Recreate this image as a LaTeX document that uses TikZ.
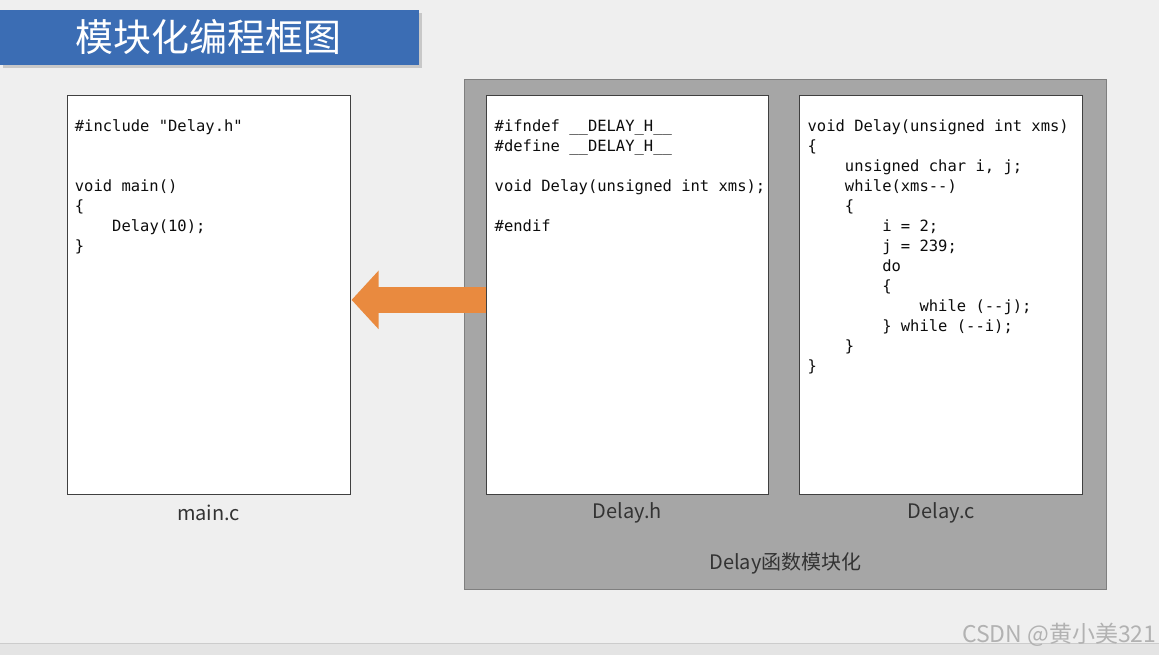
\documentclass[tikz,border=0pt]{standalone}
\usepackage{fontspec}
\setmainfont{Noto Sans CJK SC}
\setmonofont{DejaVu Sans Mono}
\usetikzlibrary{positioning,arrows.meta,shadows}
\definecolor{cbg}{HTML}{EFEFEF}
\definecolor{cstrip}{HTML}{E4E4E4}
\definecolor{cblue}{HTML}{3B6DB4}
\definecolor{cgray}{HTML}{A6A6A6}
\definecolor{cedge}{HTML}{7F7F7F}
\definecolor{corange}{HTML}{E98A3F}
\definecolor{ctext}{HTML}{333333}
\newcommand{\tab}{\phantom{0000}}

\begin{document}
\begin{tikzpicture}[x=1pt, y=-1pt,
  file/.style={draw=black!75, fill=white, line width=1pt, minimum width=283pt, minimum height=399pt, inner sep=0pt},
  code/.style={anchor=north west, align=left, inner sep=0pt, text=black!95, font=\ttfamily\fontsize{15.5}{20}\selectfont},
  flabel/.style={text=ctext, inner sep=0pt, font=\fontsize{20}{23}\selectfont},
  banner/.style={fill=cblue, text=white, minimum width=419pt, minimum height=55pt, inner sep=0pt,
    drop shadow={shadow xshift=3pt, shadow yshift=-3pt, opacity=.35}, font=\fontsize{38}{42}\selectfont},
  bigarrow/.style={draw=corange, line width=26pt, -{Triangle[length=27pt, width=57pt]}}]
% page
\fill[cbg] (0,0) rectangle (1159,655);
\fill[cstrip] (0,643) rectangle (1159,655);
\draw[black!20] (0,643) -- (1159,643);
\useasboundingbox (0,0) rectangle (1159,655);
% title
\node[banner] (title) at (209.5,37.5) {\hspace*{-3pt}模块化编程框图};
% module box
\node[draw=cedge, fill=cgray, line width=1pt, minimum width=643pt, minimum height=510pt, inner sep=0pt] (modbox) at (785.5,335) {};
\node[flabel] (modlab) at (785.5,564) {Delay函数模块化};
% files
\node[file] (mainbox) at (208.5,295.5) {};
\node[file] (hbox) at (627.5,295.5) {};
\node[file] (cbox) at (941.5,295.5) {};
\node[flabel] (mainlab) at ([yshift=-17.5pt]mainbox.south) {main.c};
\node[flabel] (hlab) at ([yshift=-17.5pt]hbox.south) {Delay.h};
\node[flabel] (clab) at ([yshift=-17.5pt]cbox.south) {Delay.c};
% code
\node[code] (maincode) at ([shift={(8,24)}]mainbox.north west) {\#include "Delay.h"\\ \mbox{}\\ \mbox{}\\ void main()\\ \{\\ \tab Delay(10);\\ \}};
\node[code] (hcode) at ([shift={(9,24)}]hbox.north west) {\#ifndef \_\_DELAY\_H\_\_\\ \#define \_\_DELAY\_H\_\_\\ \mbox{}\\ void Delay(unsigned int xms);\\ \mbox{}\\ \#endif};
\node[code] (ccode) at ([shift={(8,24)}]cbox.north west) {void Delay(unsigned int xms)\\
  \{\\
  \tab unsigned char i, j;\\
  \tab while(xms--)\\
  \tab \{\\
  \tab\tab i = 2;\\
  \tab\tab j = 239;\\
  \tab\tab do\\
  \tab\tab \{\\
  \tab\tab\tab while (--j);\\
  \tab\tab \} while (--i);\\
  \tab \}\\
  \}};
% include arrow
\draw[bigarrow] ([yshift=-4.5pt]hbox.west) -- ([yshift=-4.5pt, xshift=1pt]mainbox.east);
% watermark
\node[anchor=west, inner sep=0pt, text=black!30, font=\fontsize{23}{26}\selectfont] (mark) at (962,635) {CSDN @黄小美321};
\end{tikzpicture}
\end{document}
